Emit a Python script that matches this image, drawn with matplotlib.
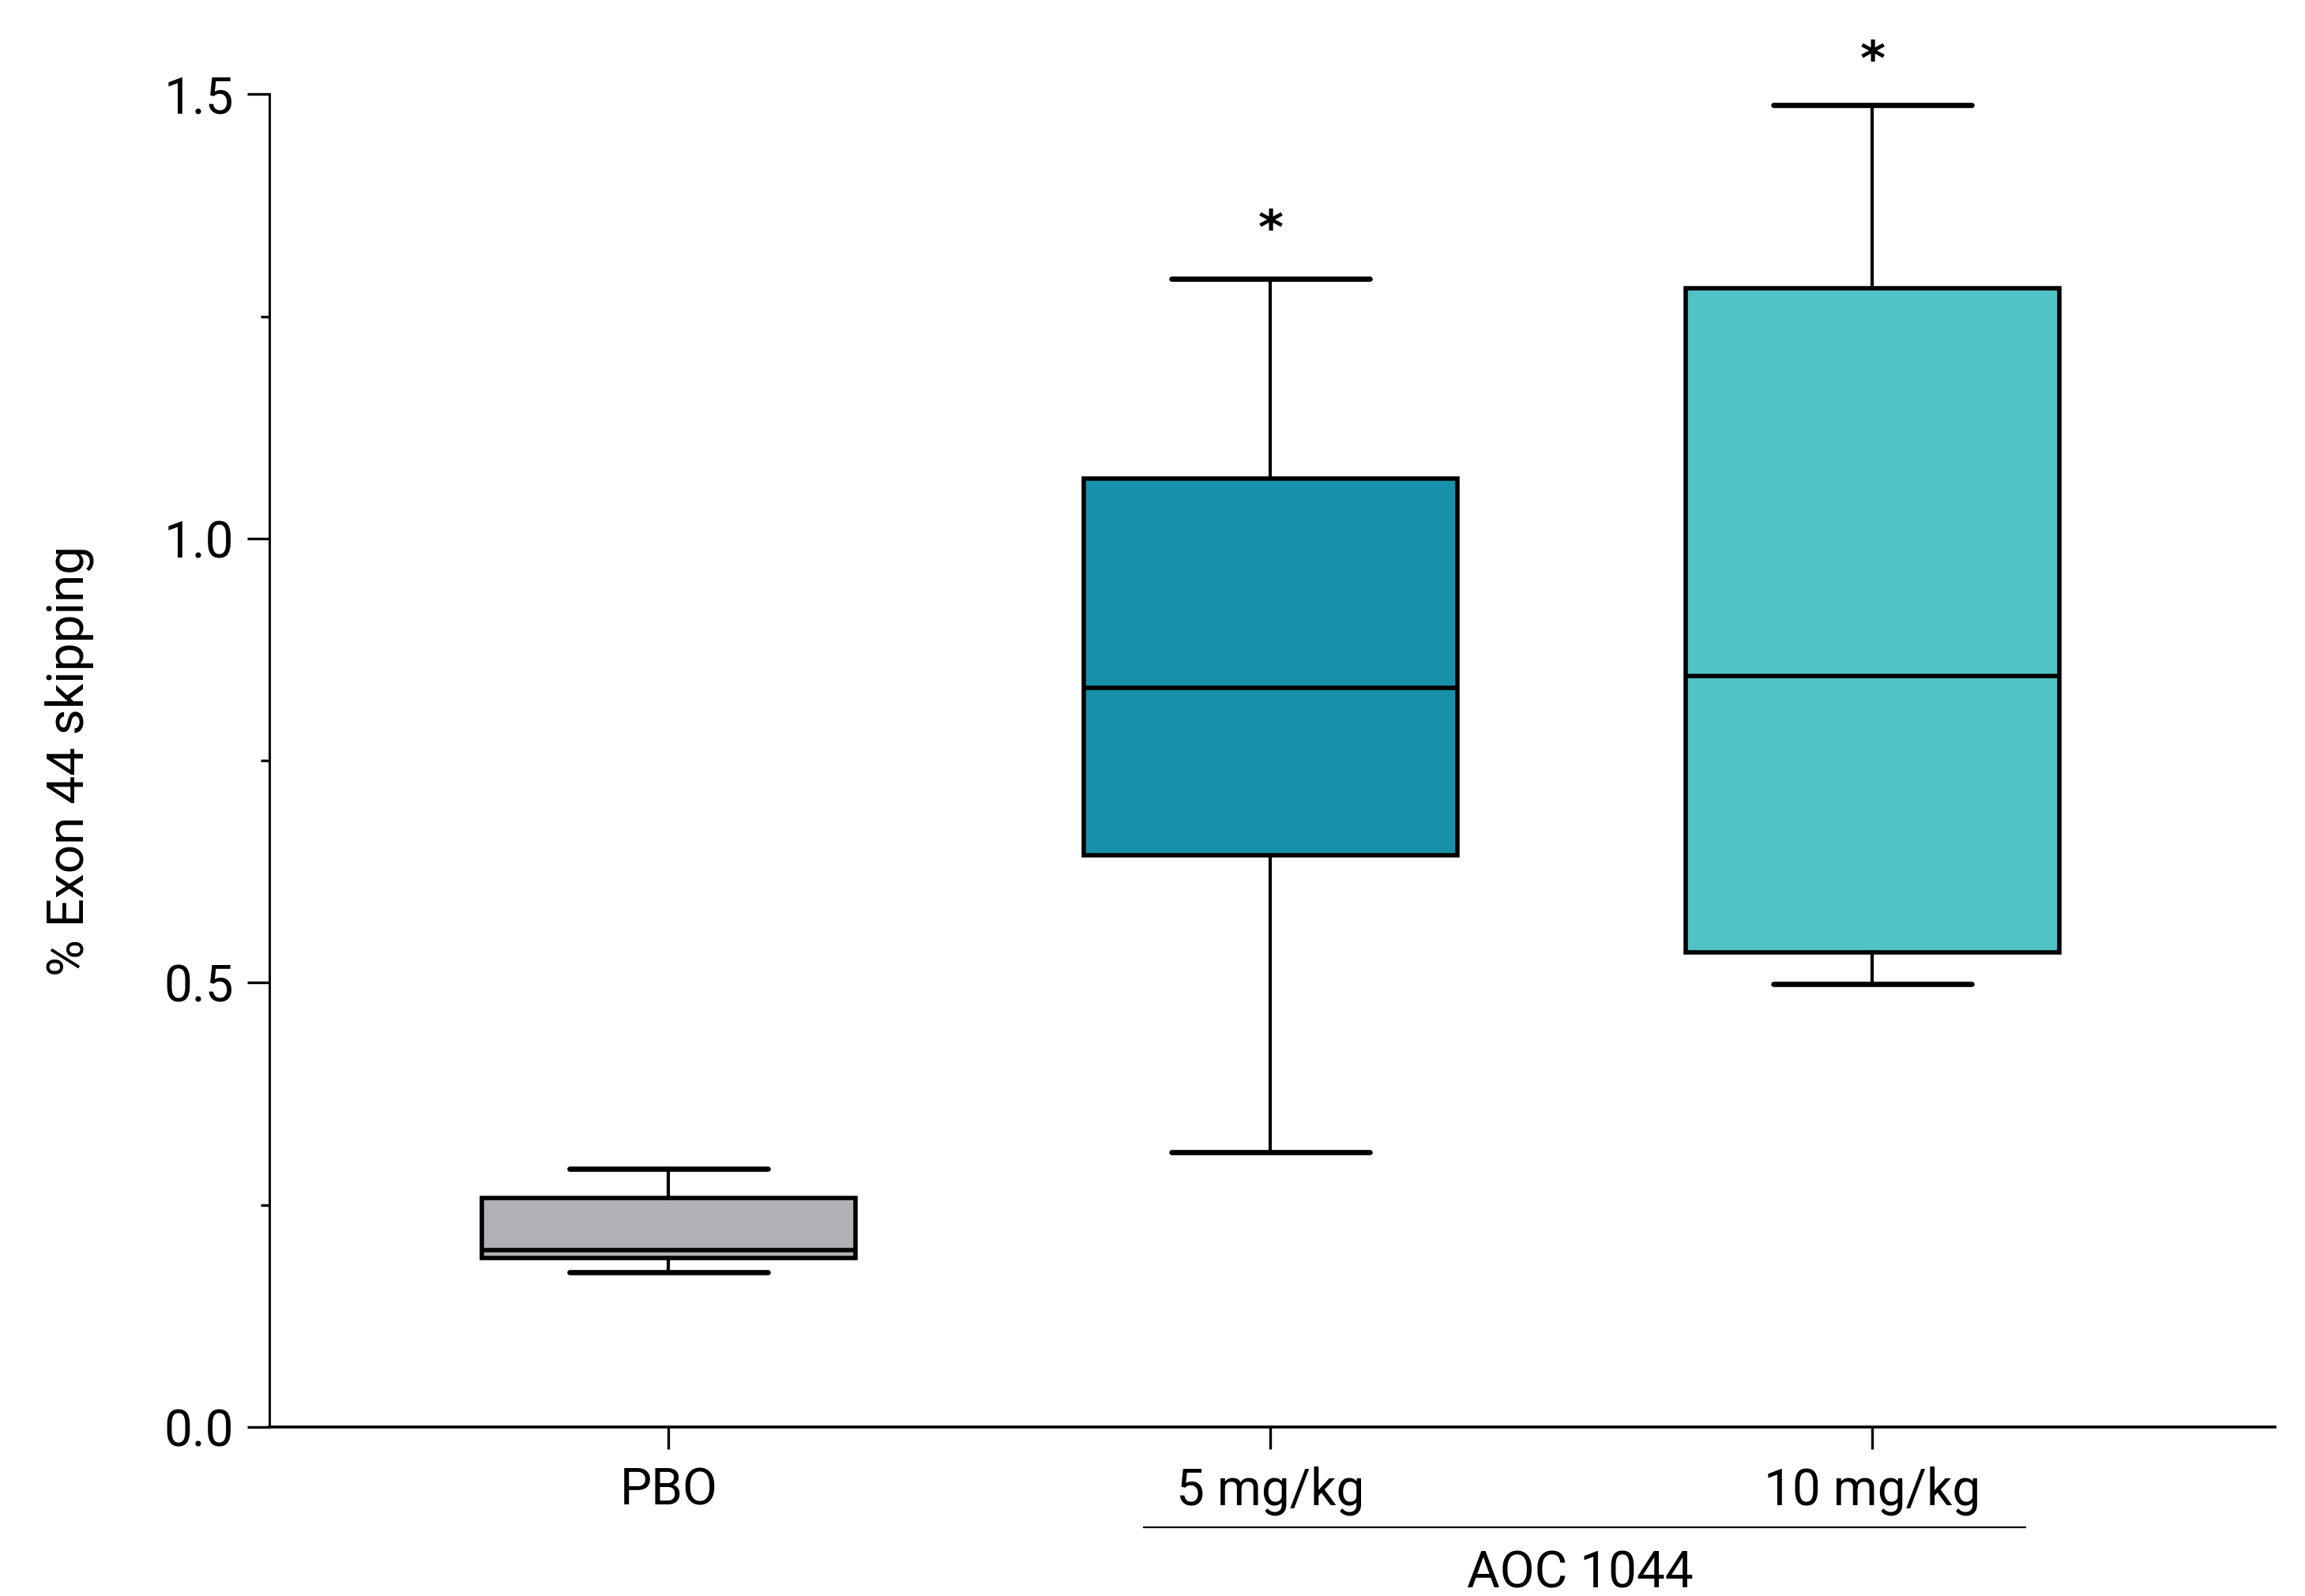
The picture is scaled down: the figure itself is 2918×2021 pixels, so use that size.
import matplotlib.pyplot as plt
import matplotlib.transforms as mtransforms
from matplotlib.ticker import MultipleLocator

plt.rcParams['font.family'] = ['Roboto', 'DejaVu Sans']

groups = ["PBO", "5 mg/kg", "10 mg/kg"]
whislo = [0.174, 0.309, 0.499]
q1 = [0.190, 0.643, 0.534]
med = [0.199, 0.832, 0.845]
q3 = [0.258, 1.067, 1.282]
whishi = [0.291, 1.292, 1.488]
colors = ["#b0b1b4", "#1790a9", "#51c3c5"]
stars = ["", "*", "*"]
star_y = [None, 1.346, 1.536]
group_label = "AOC 1044"
ylabel = "% Exon 44 skipping"

stats = []
for i in range(len(groups)):
    stats.append(dict(label=groups[i], whislo=whislo[i], q1=q1[i], med=med[i],
                      q3=q3[i], whishi=whishi[i], fliers=[]))

fig = plt.figure(figsize=(14.59, 10.105), dpi=200)
ax = fig.add_axes([0.1167, 0.1059, 0.8703, 0.8351])

pos = list(range(len(groups)))
bp = ax.bxp(stats, positions=pos, widths=0.62, capwidths=0.33, patch_artist=True,
            showfliers=False,
            boxprops=dict(linewidth=2.0, edgecolor="black"),
            medianprops=dict(linewidth=2.0, color="black"),
            whiskerprops=dict(linewidth=1.5, color="black"),
            capprops=dict(linewidth=2.4, color="black", solid_capstyle="round"))
for patch, c in zip(bp["boxes"], colors):
    patch.set_facecolor(c)

for x, s, y in zip(pos, stars, star_y):
    if s:
        ax.text(x, y, s, ha="center", va="center", fontsize=22,
                fontweight="bold", family="DejaVu Sans", clip_on=False)

ax.set_xlim(-0.664, 2.669)
ax.set_ylim(0, 1.5)
ax.yaxis.set_major_locator(MultipleLocator(0.5))
ax.yaxis.set_minor_locator(MultipleLocator(0.25))
ax.yaxis.set_major_formatter(lambda v, p: f"{v:.1f}")
ax.set_xticks(pos)
ax.set_xticklabels(groups)
ax.tick_params(axis="y", which="major", length=10, width=1.2, labelsize=23, pad=6)
ax.tick_params(axis="y", which="minor", length=4, width=1.2)
ax.tick_params(axis="x", length=10, width=1.2, labelsize=23, pad=8)
ax.spines["top"].set_visible(False)
ax.spines["right"].set_visible(False)
ax.spines["left"].set_linewidth(1.1)
ax.spines["bottom"].set_linewidth(1.3)
ax.set_ylabel(ylabel, fontsize=23, labelpad=32)

# group bracket under the two AOC 1044 doses
trans = mtransforms.blended_transform_factory(ax.transData, ax.transAxes)
ax.plot([0.789, 2.254], [-0.075, -0.075], color="black", lw=0.8,
        transform=trans, clip_on=False)
ax.text(1.514, -0.11, group_label, transform=trans, ha="center", va="center",
        fontsize=23)

fig.savefig("out.png", dpi=200)
